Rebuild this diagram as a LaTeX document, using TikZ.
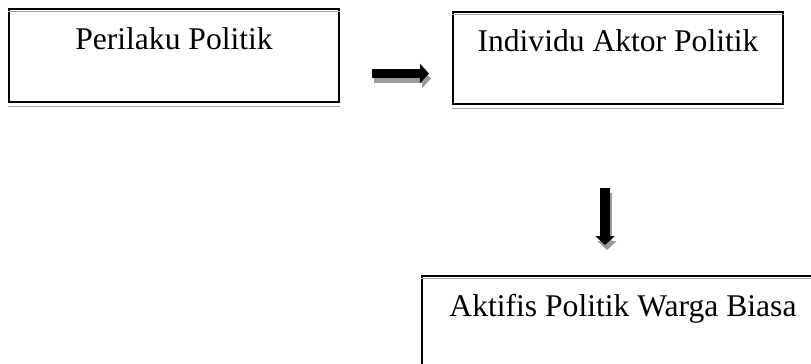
\documentclass[tikz,border=0pt]{standalone}
\usepackage{fontspec}
\setmainfont{Liberation Serif}
\usetikzlibrary{arrows.meta}

\begin{document}
\begin{tikzpicture}[x=0.5pt,y=-0.5pt,>={Triangle[length=4.5pt,width=9.5pt]},line join=miter,
  box/.style={draw=black,line width=1pt,inner sep=0pt,minimum width=165pt,text height=20pt,font=\fontsize{15.8}{19}\selectfont},
  boxshade/.style={draw=black!35,line width=0.75pt},
  blockarrow/.style={->,draw=black,line width=4.75pt},
  arrowshade/.style={->,draw=black!40,line width=4.75pt,transform canvas={xshift=1pt,yshift=-2.5pt}}]
%%
\useasboundingbox (0,0) rectangle (811,364);
\clip (0,0) rectangle (811,364);
\node (node_perilaku) at (174,55.5) [box,text depth=26.5pt] {Perilaku Politik};
  \node (node_individu) at (618,58) [box,text depth=26pt] {Individu Aktor Politik};
  \node (node_aktifis) at (623,322.5) [box,minimum width=201pt,text depth=26.5pt] {Aktifis Politik Warga Biasa};
  \coordinate (harrow_a) at (372,73.5);
  \coordinate (harrow_b) at (429,73.5);
  \coordinate (varrow_a) at (605,188);
  \coordinate (varrow_b) at (605,245);
%
  \foreach \n in {node_perilaku,node_individu,node_aktifis} {
    \draw [boxshade] ([yshift=-1.75pt]\n.north west) -- ([yshift=-1.75pt]\n.north east);
    \draw [boxshade] ([yshift=-1.75pt]\n.south west) -- ([yshift=-1.75pt]\n.south east);
  }
  \draw [arrowshade] (harrow_a) -- (harrow_b);
  \draw [blockarrow] (harrow_a) -- (harrow_b);
  \draw [arrowshade] (varrow_a) -- (varrow_b);
  \draw [blockarrow] (varrow_a) -- (varrow_b);
%
\end{tikzpicture}
\end{document}
